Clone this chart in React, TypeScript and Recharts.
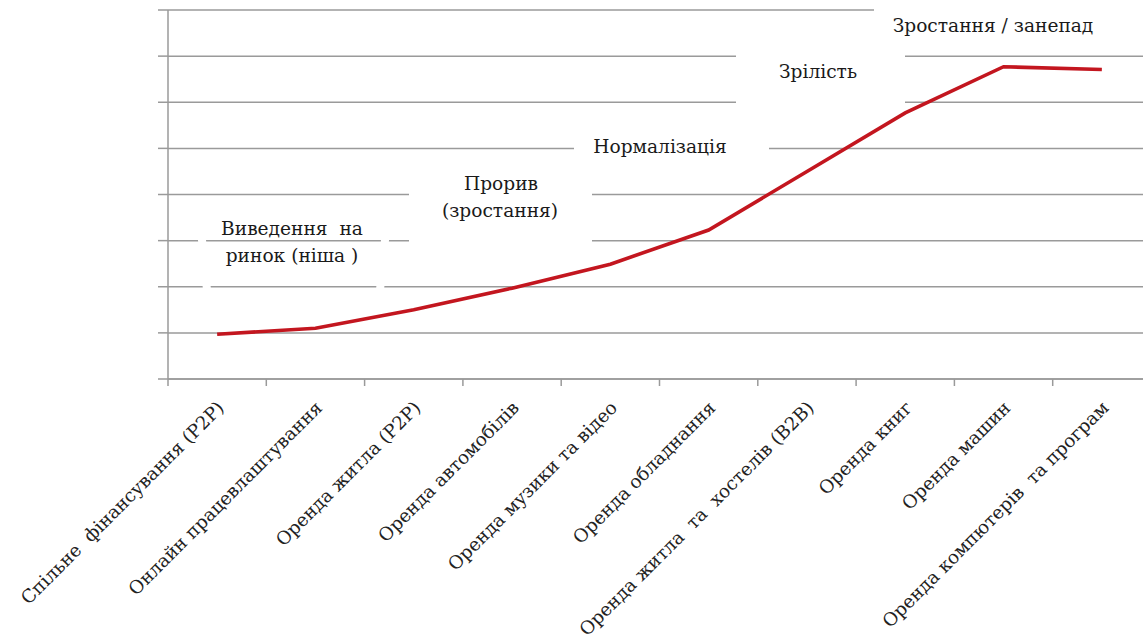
import React from 'react';
import { CartesianGrid, Line, LineChart, XAxis, YAxis } from 'recharts';

const categories = [
  'Спільне  фінансування (P2P)',
  'Онлайн працевлаштування',
  'Оренда житла (P2P)',
  'Оренда автомобілів',
  'Оренда музики та відео',
  'Оренда обладнання',
  'Оренда житла  та  хостелів (B2B)',
  'Оренда книг',
  'Оренда машин',
  'Оренда компютерів  та програм',
];
const levels = [0.97, 1.1, 1.5, 1.97, 2.49, 3.23, 4.5, 5.77, 6.77, 6.71];
const yTicks = [0, 1, 2, 3, 4, 5, 6, 7, 8];

const data = categories.map((name, i) => ({ name, level: levels[i] }));

const CHART_W = 1160;
const LEFT = 168;
const RIGHT = 9;
const BAND = (CHART_W - LEFT - RIGHT) / categories.length;

const GRID = '#9a9a9a';
const SERIF = "'DejaVu Serif', serif";

type TickProps = { x?: number; y?: number; payload?: { value: string } };

// label at the band centre, tick mark at the band's left edge
function CategoryTick({ x = 0, y = 0, payload }: TickProps) {
  const ax = x + 8;
  const ay = y + 30;
  const bx = x - BAND / 2;
  return (
    <g>
      <line x1={bx} x2={bx} y1={y} y2={y + 7} stroke={GRID} strokeWidth={1.5} />
      <text
        x={ax}
        y={ay}
        transform={`rotate(-45 ${ax} ${ay})`}
        textAnchor="end"
        fill="#222"
        style={{ whiteSpace: 'pre', fontFamily: SERIF, fontSize: 18.3 }}
      >
        {payload?.value}
      </text>
    </g>
  );
}

function NoLabel() {
  return <g />;
}

// text boxes that sit over the grid, as in the original slide
function Annotations() {
  const txt = {
    fill: '#1a1a1a',
    textAnchor: 'middle' as const,
    style: { whiteSpace: 'pre' as const, fontFamily: SERIF, fontSize: 18.6 },
  };
  return (
    <svg
      width={1143}
      height={640}
      style={{ position: 'absolute', left: 0, top: 0, pointerEvents: 'none' }}
    >
      <polygon points="199,210 388,210 378,310 209,310" fill="none" stroke="#fff" strokeWidth={8} />
      <text {...txt} x={292} y={235}>Виведення  на</text>
      <text {...txt} x={292} y={262}>ринок (ніша )</text>

      <rect x={409} y={160} width={183} height={94} fill="#fff" />
      <text {...txt} x={501} y={190}>Прорив</text>
      <text {...txt} x={500} y={217}>(зростання)</text>

      <rect x={574} y={126} width={195} height={36} fill="#fff" />
      <text {...txt} x={660} y={153}>Нормалізація</text>

      <rect x={736} y={36} width={169} height={72} fill="#fff" />
      <text {...txt} x={818} y={78}>Зрілість</text>

      <rect x={874} y={0} width={269} height={40} fill="#fff" />
      <text {...txt} x={993} y={32}>Зростання / занепад</text>
    </svg>
  );
}

export default function App() {
  return (
    <div
      style={{
        position: 'absolute',
        left: 0,
        top: 0,
        width: 1143,
        height: 640,
        overflow: 'hidden',
        background: '#fff',
      }}
    >
      <LineChart
        width={CHART_W}
        height={640}
        data={data}
        margin={{ top: 10, right: RIGHT, left: 0, bottom: 0 }}
      >
        <CartesianGrid horizontal vertical={false} stroke={GRID} strokeWidth={1.5} />
        <XAxis
          dataKey="name"
          scale="band"
          interval={0}
          stroke={GRID}
          strokeWidth={1.5}
          tickLine={false}
          tickSize={0}
          tickMargin={0}
          height={261}
          tick={<CategoryTick />}
        />
        <YAxis
          domain={[0, 8]}
          ticks={yTicks}
          tick={<NoLabel />}
          tickSize={10}
          width={LEFT}
          stroke={GRID}
          strokeWidth={1.5}
        />
        <Line
          type="linear"
          dataKey="level"
          stroke="#c3161f"
          strokeWidth={3.6}
          dot={false}
          isAnimationActive={false}
        />
      </LineChart>
      <Annotations />
    </div>
  );
}
